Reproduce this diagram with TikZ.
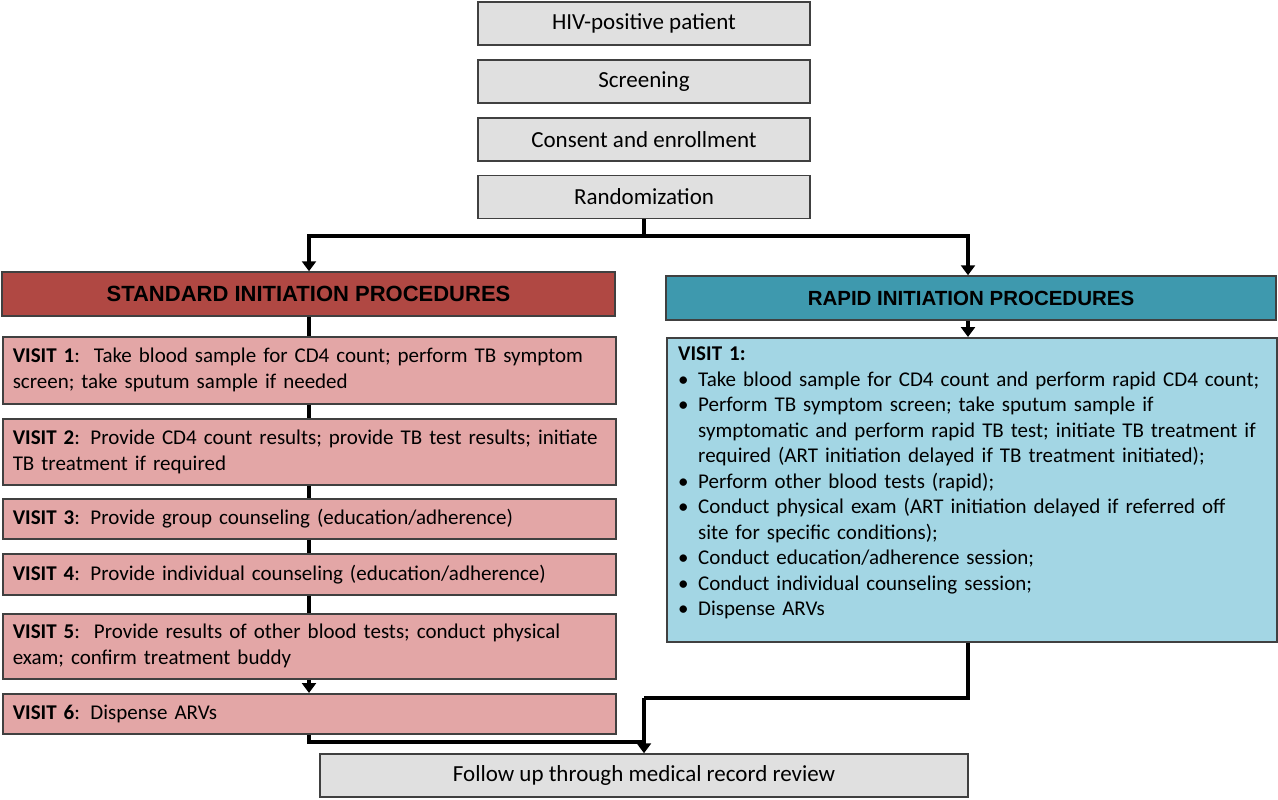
\documentclass[tikz,border=0pt]{standalone}
\usepackage{fontspec}
\setmainfont{Carlito}
\newfontfamily\hdfont{Liberation Sans}
\usetikzlibrary{arrows.meta}
\definecolor{gbox}{HTML}{E0E0E0}
\definecolor{redh}{HTML}{B04843}
\definecolor{redb}{HTML}{E3A6A6}
\definecolor{tealh}{HTML}{3E99AE}
\definecolor{blueb}{HTML}{A3D6E4}
\newcommand\bit[1]{\par\hangindent=20pt\hangafter=1\noindent\makebox[20pt][l]{\textbullet}#1}
\begin{document}
\begin{tikzpicture}[x=1pt,y=-1pt,
 box/.style={draw=black!75,line width=1.5pt,minimum height=#1,inner sep=0pt},
 gb/.style={box=43pt,fill=gbox,font=\fontsize{23}{27}\selectfont},
 lv/.style={box=#1,fill=redb,text width=593pt,align=left,font=\fontsize{21}{26}\selectfont,inner xsep=10pt,minimum width=613pt,anchor=north west},
 ln/.style={line width=3.2pt},
 ar/.style={ln,-{Triangle[width=14pt,length=10pt]}}]
\useasboundingbox (0,0) rectangle (1278,800);
\node[gb,minimum width=332pt] (hiv) at (644,23.5) {HIV-positive patient};
\node[gb,minimum width=332pt] (scr) at (644,81.5) {Screening};
\node[gb,minimum width=332pt] (con) at (644,139.5) {Consent and enrollment};
\node[gb,minimum width=332pt] (ran) at (644,197) {Randomization};
\node[gb,minimum width=648pt] (fu) at (644,775.5) {Follow up through medical record review};
\node[box=44pt,fill=redh,minimum width=613pt,font=\hdfont\fontsize{22}{26}\selectfont\bfseries] (sh) at (308.5,294) {STANDARD INITIATION PROCEDURES};
\node[box=44pt,fill=tealh,minimum width=610pt,font=\hdfont\fontsize{20.5}{26}\selectfont\bfseries] (rh) at (971,298) {RAPID INITIATION PROCEDURES};
\node[lv=67pt] (v1) at (2,336) {\textbf{VISIT 1}:\ \ Take blood sample for CD4 count; perform TB symptom\newline screen; take sputum sample if needed};
\node[lv=66pt] (v2) at (2,418) {\textbf{VISIT 2}: Provide CD4 count results; provide TB test results; initiate\newline TB treatment if required};
\node[lv=40pt] (v3) at (2,498) {\textbf{VISIT 3}: Provide group counseling (education/adherence)};
\node[lv=41pt] (v4) at (2,553) {\textbf{VISIT 4}: Provide individual counseling (education/adherence)};
\node[lv=65pt] (v5) at (2,613) {\textbf{VISIT 5}:\ \ Provide results of other blood tests; conduct physical\newline exam; confirm treatment buddy};
\node[lv=40pt] (v6) at (2,693) {\textbf{VISIT 6}: Dispense ARVs};
\node[box=304pt,fill=blueb,minimum width=610pt,anchor=north west] (r1) at (666,337) {};
\node[anchor=north west,inner sep=0pt,text width=595pt,font=\fontsize{21}{25.5}\selectfont] (r1t) at ([xshift=12pt,yshift=-10pt]r1.north west) {\noindent\textbf{VISIT 1:}
\bit{Take blood sample for CD4 count and perform rapid CD4 count;}
\bit{Perform TB symptom screen; take sputum sample if\newline symptomatic and perform rapid TB test; initiate TB treatment if\newline required (ART initiation delayed if TB treatment initiated);}
\bit{Perform other blood tests (rapid);}
\bit{Conduct physical exam (ART initiation delayed if referred off\newline site for specific conditions);}
\bit{Conduct education/adherence session;}
\bit{Conduct individual counseling session;}
\bit{Dispense ARVs}};
\coordinate (m) at (644,236);
\draw[ar] (ran.south) -- (m) -| (sh.north -| 309,0);
\draw[ar] (m) -| (rh.north -| 968,0);
\draw[ln] (sh.south -| 309,0) -- (v1.north -| 309,0);
\draw[ln] (v1.south -| 309,0) -- (v2.north -| 309,0);
\draw[ln] (v2.south -| 309,0) -- (v3.north -| 309,0);
\draw[ln] (v3.south -| 309,0) -- (v4.north -| 309,0);
\draw[ln] (v4.south -| 309,0) -- (v5.north -| 309,0);
\draw[ar] (v5.south -| 309,0) -- (v6.north -| 309,0);
\draw[ar] (rh.south -| 968,0) -- (r1.north -| 968,0);
\coordinate (j) at (644,698);
\coordinate (k) at (309,742);
\draw[ln] (r1.south -| 968,0) |- (j);
\draw[ln] (v6.south -| 309,0) -- (k) -- (k -| fu.north);
\draw[ar] (j) -- (fu.north);
\end{tikzpicture}
\end{document}
